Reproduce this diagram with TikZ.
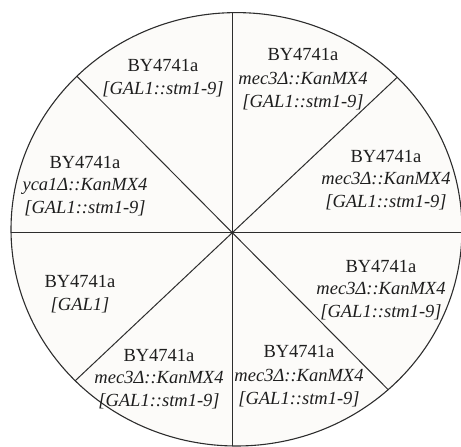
\documentclass[tikz,border=0pt]{standalone}
\usepackage{fontspec}
\setmainfont{Liberation Serif}
\usepackage{tikz}
\definecolor{plate}{RGB}{252,251,249}
\definecolor{rim}{RGB}{45,45,45}
\definecolor{ink}{RGB}{30,30,30}

\tikzset{
  strain/.style={align=center, inner sep=0pt, text=ink}
}

\begin{document}
\begin{tikzpicture}[x=1pt,y=-1pt,font=\fontsize{18.5}{22.5}\selectfont]
        \def\cx{232.3}
        \def\cy{232.7}
        \useasboundingbox (0,0) rectangle (461,447);
        \coordinate (hub) at (\cx,\cy);

        \filldraw[fill=plate, draw=rim, line width=1.1pt] (236.5,229.3) ellipse [x radius=225.5pt, y radius=216.7pt];
        \begin{scope}
          \clip (236.5,229.3) ellipse [x radius=225.5pt, y radius=216.7pt];
          \foreach \a in {0,43.3,90,134.8,180,223.3,270,314.8} {
            \draw[rim, line width=1pt] (hub) -- ++(\a:300pt);
          }
        \end{scope}

        \node[strain] (strain1) at (163,78) {BY4741a\\\textit{[GAL1::stm1-9]}};
        \node[strain] (strain2) at (303,79) {BY4741a\\[1.5pt]\textit{mec3Δ::KanMX4}\\\textit{[GAL1::stm1-9]}};
        \node[strain] (strain3) at (85,186) {BY4741a\\\textit{yca1Δ::KanMX4}\\\textit{[GAL1::stm1-9]}};
        \node[strain] (strain4) at (386,180) {BY4741a\\\textit{mec3Δ::KanMX4}\\\textit{[GAL1::stm1-9]}};
        \node[strain] (strain5) at (80,294) {BY4741a\\\textit{[GAL1]}};
        \node[strain] (strain6) at (381,290) {BY4741a\\\textit{mec3Δ::KanMX4}\\\textit{[GAL1::stm1-9]}};
        \node[strain] (strain7) at (159,379) {BY4741a\\\textit{mec3Δ::KanMX4}\\\textit{[GAL1::stm1-9]}};
        \node[strain] (strain8) at (299,376) {BY4741a\\[1.5pt]\textit{mec3Δ::KanMX4}\\\textit{[GAL1::stm1-9]}};

      \end{tikzpicture}
\end{document}
